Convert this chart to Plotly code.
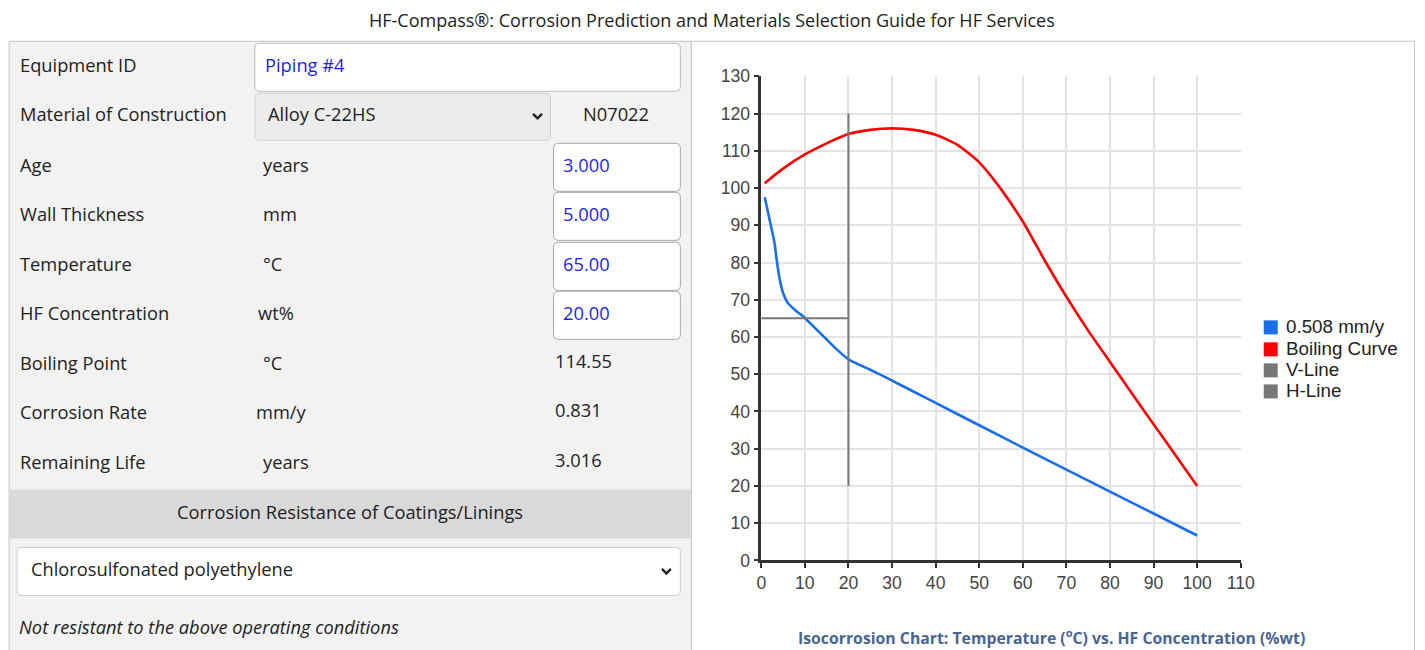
import plotly.graph_objects as go

# Layout is designed in reference-image pixels (1425x650) and mapped to the
# figure's paper coordinates (the page has an 8px body margin and the photo
# of the page is slightly reduced, so the mapping compensates for that).
W, H = 1425, 650
OFF = 8
SX, SY = 0.9878, 0.969
AX, AY = 4.0, 9.0
FW, FH = 1431, 653

# ---------------- data ----------------
iso_x = [0.8, 2, 3, 3.5, 4, 4.5, 5, 6, 7, 8, 10, 12, 14, 17, 20, 22, 25, 28, 30, 35, 40, 50, 60, 70, 80, 90, 100]
iso_y = [97.5, 91, 85.5, 81, 77, 74, 71.8, 69.3, 68, 67, 65.1, 62.8, 60.5, 57, 54, 52.8, 51.2, 49.5, 48.3, 45.3, 42.3, 36.3, 30.3, 24.4, 18.5, 12.6, 6.7]
boil_x = [0.8, 5, 10, 15, 20, 25, 30, 35, 40, 45, 50, 55, 60, 65, 70, 75, 80, 85, 90, 95, 100]
boil_y = [101.3, 105.2, 109, 112, 114.5, 115.6, 116, 115.6, 114.3, 111.6, 106.9, 99.7, 91.0, 80.6, 70.8, 61.7, 53.3, 44.9, 36.6, 28.3, 20]
vline_x = [20, 20]
vline_y = [20, 120]
hline_x = [0, 20]
hline_y = [65, 65]
series_names = ["0.508 mm/y", "Boiling Curve", "V-Line", "H-Line"]
series_colors = ["#1a6ee8", "#ff0000", "#777777", "#777777"]
x_ticks = [0, 10, 20, 30, 40, 50, 60, 70, 80, 90, 100, 110]
y_ticks = [0, 10, 20, 30, 40, 50, 60, 70, 80, 90, 100, 110, 120, 130]

title_text = "HF-Compass®: Corrosion Prediction and Materials Selection Guide for HF Services"
chart_caption = "Isocorrosion Chart: Temperature (<sup>o</sup>C) vs. HF Concentration (%wt)"

form_rows = [
    # label, unit, value, y-center, is_input
    ("Age", "years", "3.000", 166, True),
    ("Wall Thickness", "mm", "5.000", 215, True),
    ("Temperature", "°C", "65.00", 265, True),
    ("HF Concentration", "wt%", "20.00", 314, True),
    ("Boiling Point", "°C", "114.55", 364, False),
    ("Corrosion Rate", "mm/y", "0.831", 413, False),
    ("Remaining Life", "years", "3.016", 463, False),
]
unit_x = {"years": 260, "mm": 260, "°C": 260, "wt%": 255, "mm/y": 253}

equipment_id = "Piping #4"
material = "Alloy C-22HS"
uns = "N07022"
coating_header = "Corrosion Resistance of Coatings/Linings"
coating = "Chlorosulfonated polyethylene"
coating_result = "Not resistant to the above operating conditions"

# ---------------- helpers ----------------
def fx(x):
    return (x - AX) / SX - OFF

def fy(y):
    return (y - AY) / SY - OFF

def px(x):
    return fx(x) / FW

def py(y):
    return 1 - fy(y) / FH

def pt(x, y):
    return f"{px(x):.6f},{py(y):.6f}"

def rrect(x0, y0, x1, y1, r, fill, line="#bdbdbd", lw=1, layer="above"):
    path = (f"M {pt(x0+r, y0)} L {pt(x1-r, y0)} Q {pt(x1, y0)} {pt(x1, y0+r)} "
            f"L {pt(x1, y1-r)} Q {pt(x1, y1)} {pt(x1-r, y1)} "
            f"L {pt(x0+r, y1)} Q {pt(x0, y1)} {pt(x0, y1-r)} "
            f"L {pt(x0, y0+r)} Q {pt(x0, y0)} {pt(x0+r, y0)} Z")
    return dict(type="path", xref="paper", yref="paper", path=path,
                fillcolor=fill, line=dict(color=line, width=lw), layer=layer)

def rect(x0, y0, x1, y1, fill, line=None, lw=1, layer="below"):
    return dict(type="rect", xref="paper", yref="paper",
                x0=px(x0), x1=px(x1), y0=py(y1), y1=py(y0),
                fillcolor=fill, line=dict(color=line or fill, width=lw if line else 0), layer=layer)

def chevron(cx, cy):
    path = f"M {pt(cx-4.5, cy-2.5)} L {pt(cx, cy+2)} L {pt(cx+4.5, cy-2.5)}"
    return dict(type="path", xref="paper", yref="paper", path=path,
                line=dict(color="#222222", width=2.4))

FORM_FONT = "Open Sans"
CHART_FONT = "Liberation Sans, Arial"
anns = []
DY = -2.5  # baseline correction for form text

def text(x, y, s, size=18.3, color="#222222", anchor="left", italic=False, bold=False, family=FORM_FONT):
    if italic:
        s = f"<i>{s}</i>"
    if bold:
        s = f"<b>{s}</b>"
    anns.append(dict(x=px(x), y=py(y), xref="paper", yref="paper", text=s, showarrow=False,
                     xanchor=anchor, yanchor="middle",
                     font=dict(family=family, size=size, color=color)))

shapes = []
# panels
shapes.append(rect(8, 40, 691, 662, "#f2f2f2", line="#c4c4c4", lw=1))
shapes.append(rect(691, 40, 1415, 662, "#ffffff", line="#c4c4c4", lw=1))
# coating header band
shapes.append(rect(9, 488, 690, 537, "#d9d9d9"))

# input boxes
shapes.append(rrect(254, 42, 680, 90, 5, "#ffffff"))
shapes.append(rrect(254, 92, 550, 139, 5, "#ececec", line="#d0d0d0"))
shapes.append(chevron(537, 115))
for (lab, unit, val, yc, is_in) in form_rows:
    if is_in:
        shapes.append(rrect(553, yc - 24, 680, yc + 24, 5, "#ffffff", line="#a9a9a9"))
shapes.append(rrect(16, 546, 680, 594, 5, "#ffffff", line="#cfcfcf"))
shapes.append(chevron(666, 570))

# texts
text(712, 19, title_text, size=18, anchor="center")
text(17, 66 + DY, "Equipment ID")
text(262, 66 + DY, equipment_id, color="#1f1fe0")
text(265, 115 + DY, material)
text(616, 115 + DY, uns, anchor="center")
text(17, 115 + DY, "Material of Construction")
for (lab, unit, val, yc, is_in) in form_rows:
    text(17, yc + DY, lab)
    text(unit_x[unit], yc + DY, unit)
    if is_in:
        text(561, yc + DY, val, color="#1f1fe0")
    else:
        text(552, yc - 2 + DY, val)
text(349, 513 + DY, coating_header, anchor="center")
text(28, 570 + DY, coating)
text(16, 628 + DY, coating_result, italic=True)
text(1052, 636, chart_caption, size=15.8, color="#4a6592", anchor="center", bold=True)

# manual legend (square swatches as in the reference)
leg_y = [326, 348, 369, 390]
for name, col, yc in zip(series_names, series_colors, leg_y):
    shapes.append(rect(1264, yc - 7, 1278, yc + 7, col, layer="above"))
    text(1284, yc - 1, name, size=18.8, family=CHART_FONT)

# ---------------- figure ----------------
fig = go.Figure()
line_specs = [(iso_x, iso_y, 2.6, 0.5), (boil_x, boil_y, 2.6, 0.6), (vline_x, vline_y, 2, 0), (hline_x, hline_y, 2, 0)]
for (xs, ys, w, sm), name, col in zip(line_specs, series_names, series_colors):
    fig.add_trace(go.Scatter(x=xs, y=ys, mode="lines", name=name, showlegend=False,
                             line=dict(color=col, width=w, shape="spline" if sm else "linear",
                                       smoothing=sm if sm else 1),
                             hoverinfo="x+y+name"))

axis_common = dict(showgrid=True, gridcolor="#e3e3e3", gridwidth=1.6,
                   showline=True, linecolor="#333333", linewidth=2.5, zeroline=False,
                   ticks="outside", ticklen=5, tickcolor="#333333", tickwidth=1.5,
                   tickfont=dict(family=CHART_FONT, size=17.6, color="#444444"))

fig.update_layout(
    width=FW, height=FH,
    margin=dict(l=0, r=0, t=0, b=0),
    paper_bgcolor="#ffffff", plot_bgcolor="#ffffff",
    shapes=shapes, annotations=anns,
    showlegend=False,
    xaxis=dict(domain=[px(761), px(1241)], range=[0, 110], tickvals=x_ticks,
               ticktext=[str(v) for v in x_ticks], **axis_common),
    yaxis=dict(domain=[py(559), py(75)], range=[0, 130], tickvals=y_ticks,
               ticktext=[str(v) for v in y_ticks], **axis_common),
)

fig.write_html("out.html")
